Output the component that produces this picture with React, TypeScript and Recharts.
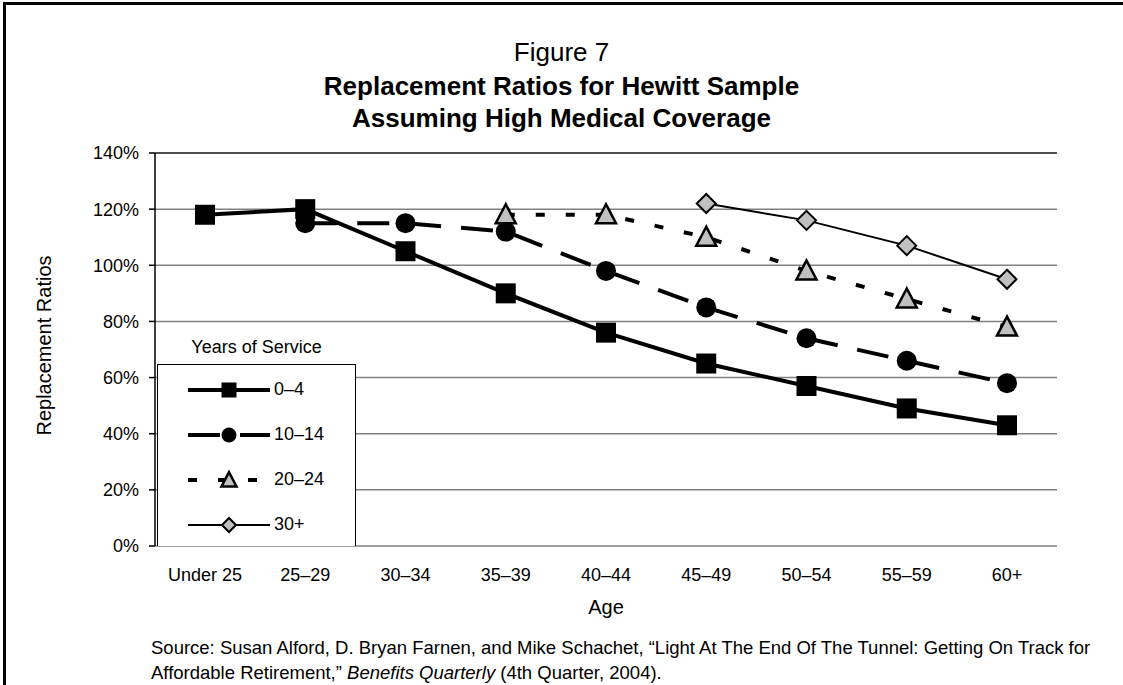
import React from 'react';
import {
  LineChart,
  Line,
  XAxis,
  YAxis,
  CartesianGrid,
  Legend,
  ReferenceLine,
} from 'recharts';

const FONT = '"Liberation Sans", Arial, Helvetica, sans-serif';

// age groups on the x axis
const ages = ['Under 25', '25–29', '30–34', '35–39', '40–44', '45–49', '50–54', '55–59', '60+'];

// replacement ratios (%) by years of service
const yos0to4 = [118, 120, 105, 90, 76, 65, 57, 49, 43];
const yos10to14 = [null, 115, 115, 112, 98, 85, 74, 66, 58];
const yos20to24 = [null, null, null, 118, 118, 110, 98, 88, 78];
const yos30plus = [null, null, null, null, null, 122, 116, 107, 95];

const yTicks = [0, 20, 40, 60, 80, 100, 120, 140];
const edgeTicks = [0, 1, 2, 3, 4, 5, 6, 7, 8, 9];

const data = ages.map((age, i) => ({
  age,
  s0: yos0to4[i],
  s10: yos10to14[i],
  s20: yos20to24[i],
  s30: yos30plus[i],
}));

type Shape = 'square' | 'circle' | 'triangle' | 'diamond';

const series: { key: string; name: string; width: number; dash?: string; shape: Shape }[] = [
  { key: 's0', name: '0–4', width: 4, shape: 'square' },
  { key: 's10', name: '10–14', width: 4, dash: '32 20', shape: 'circle' },
  { key: 's20', name: '20–24', width: 4, dash: '9 21', shape: 'triangle' },
  { key: 's30', name: '30+', width: 2, shape: 'diamond' },
];

const GRAY = '#c0c0c0';

function marker(shape: Shape, cx: number, cy: number, s: number, key?: React.Key) {
  if (shape === 'square') {
    return <rect key={key} x={cx - s / 2} y={cy - s / 2} width={s} height={s} fill="#000" />;
  }
  if (shape === 'circle') {
    return <circle key={key} cx={cx} cy={cy} r={s / 2} fill="#000" />;
  }
  if (shape === 'triangle') {
    const h = s / 2;
    return (
      <polygon
        key={key}
        points={`${cx},${cy - h * 1.05} ${cx - h},${cy + h * 0.85} ${cx + h},${cy + h * 0.85}`}
        fill={GRAY}
        stroke="#000"
        strokeWidth={2.5}
        strokeLinejoin="miter"
      />
    );
  }
  const h = s / 2;
  return (
    <polygon
      key={key}
      points={`${cx},${cy - h} ${cx + h},${cy} ${cx},${cy + h} ${cx - h},${cy}`}
      fill={GRAY}
      stroke="#000"
      strokeWidth={2}
    />
  );
}

const dotFor = (shape: Shape, size: number) => (props: any) => {
  const { cx, cy, index, value } = props;
  if (cx == null || cy == null || value == null || Number.isNaN(cy)) {
    return <g key={`e-${shape}-${index}`} />;
  }
  return marker(shape, cx, cy, size, `${shape}-${index}`);
};

const markerSize: Record<Shape, number> = { square: 20, circle: 20, triangle: 20, diamond: 19 };

const LegendBox = () => (
  <div style={{ width: 199, fontFamily: FONT, fontSize: 18, color: '#000' }}>
    <div style={{ height: 34, lineHeight: '34px', textAlign: 'center' }}>Years of Service</div>
    <div
      style={{
        height: 182,
        boxSizing: 'border-box',
        border: '1px solid #000',
        borderBottom: 'none',
        background: '#fff',
        paddingTop: 2,
      }}
    >
      {series.map((s) => (
        <div key={s.key} style={{ height: 45, display: 'flex', alignItems: 'center' }}>
          <svg width={86} height={24} style={{ marginLeft: 30, display: 'block' }}>
            <line
              x1={0}
              x2={82}
              y1={12}
              y2={12}
              stroke="#000"
              strokeWidth={s.width}
              strokeDasharray={s.dash}
            />
            {marker(s.shape, 41, 12, s.shape === 'diamond' ? 14 : 15)}
          </svg>
          <span>{s.name}</span>
        </div>
      ))}
    </div>
  </div>
);

export default function App() {
  return (
    <div
      style={{
        position: 'absolute',
        left: 0,
        top: 0,
        width: 1123,
        height: 685,
        background: '#fff',
        overflow: 'hidden',
        fontFamily: FONT,
      }}
    >
      {/* frame */}
      <div
        style={{
          position: 'absolute',
          left: 3,
          top: 2,
          width: 1200,
          height: 800,
          borderTop: '3px solid #000',
          borderLeft: '3px solid #000',
        }}
      />

      <div style={{ position: 'absolute', left: 0, top: 35, width: 1123, textAlign: 'center', color: '#000' }}>
        <div style={{ fontSize: 26, lineHeight: '35px' }}>Figure 7</div>
        <div style={{ fontSize: 26, fontWeight: 'bold', lineHeight: '32px' }}>
          Replacement Ratios for Hewitt Sample
        </div>
        <div style={{ fontSize: 26, fontWeight: 'bold', lineHeight: '32px' }}>
          Assuming High Medical Coverage
        </div>
      </div>

      <div style={{ position: 'absolute', left: 0, top: 0 }}>
        <LineChart
          width={1123}
          height={685}
          data={data}
          margin={{ top: 153, right: 66, bottom: 79, left: 0 }}
        >
          <CartesianGrid vertical={false} stroke="#808080" strokeWidth={1.5} />
          <XAxis
            xAxisId="edge"
            type="number"
            domain={[0, 9]}
            ticks={edgeTicks}
            allowDataOverflow
            height={0}
            tick={false}
            tickSize={7}
            tickLine={{ stroke: '#000', strokeWidth: 1.5 }}
            axisLine={{ stroke: '#000', strokeWidth: 2 }}
          />
          <XAxis
            dataKey="age"
            interval={0}
            height={60}
            padding={{ left: 50, right: 50 }}
            tickLine={false}
            axisLine={false}
            tickSize={6}
            tickMargin={16}
            tick={{ fill: '#000', fontSize: 18, fontFamily: FONT }}
            label={{
              content: (p: any) => {
                const vb = p.viewBox || {};
                return (
                  <text
                    x={vb.x + vb.width / 2}
                    y={607}
                    textAnchor="middle"
                    dominantBaseline="central"
                    fontSize={20}
                    fontFamily={FONT}
                    fill="#000"
                  >
                    Age
                  </text>
                );
              },
            }}
          />
          <YAxis
            width={155}
            domain={[0, 140]}
            ticks={yTicks}
            interval={0}
            tickFormatter={(v: number) => `${v}%`}
            tickSize={6}
            tickMargin={10}
            tickLine={{ stroke: '#000', strokeWidth: 1.5 }}
            axisLine={{ stroke: '#000', strokeWidth: 1.5 }}
            tick={{ fill: '#000', fontSize: 18, fontFamily: FONT }}
            label={{
              content: (p: any) => {
                const vb = p.viewBox || {};
                const cy = vb.y + vb.height / 2 - 4;
                return (
                  <text
                    x={44}
                    y={cy}
                    transform={`rotate(-90 44 ${cy})`}
                    textAnchor="middle"
                    dominantBaseline="central"
                    fontSize={20}
                    fontFamily={FONT}
                    fill="#000"
                  >
                    Replacement Ratios
                  </text>
                );
              },
            }}
          />
          <YAxis
            yAxisId="right"
            orientation="right"
            width={0}
            domain={[0, 140]}
            tick={false}
            tickLine={false}
            axisLine={{ stroke: '#000', strokeWidth: 1.5 }}
          />
          <ReferenceLine y={140} stroke="#000" strokeWidth={1.2} />
          <Legend
            layout="horizontal"
            verticalAlign="middle"
            align="center"
            wrapperStyle={{ left: 157, top: 330, width: 199, height: 216 }}
            content={() => <LegendBox />}
          />
          {series.map((s) => (
            <Line
              key={s.key}
              type="linear"
              dataKey={s.key}
              name={s.name}
              stroke="#000"
              strokeWidth={s.width}
              strokeDasharray={s.dash}
              dot={dotFor(s.shape, markerSize[s.shape])}
              activeDot={false}
              isAnimationActive={false}
            />
          ))}
        </LineChart>
      </div>

      <div
        style={{
          position: 'absolute',
          left: 151,
          top: 635,
          fontSize: 18.5,
          lineHeight: '25px',
          whiteSpace: 'nowrap',
          color: '#000',
        }}
      >
        Source: Susan Alford, D. Bryan Farnen, and Mike Schachet, “Light At The End Of The Tunnel: Getting On Track for
        <br />
        Affordable Retirement,” <i>Benefits Quarterly</i> (4th Quarter, 2004).
      </div>
    </div>
  );
}
